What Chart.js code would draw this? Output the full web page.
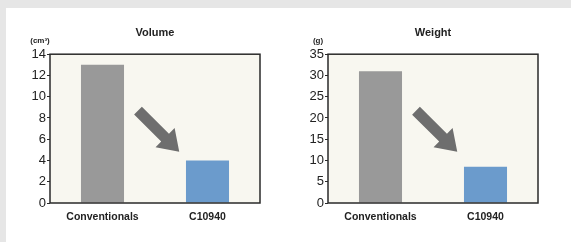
<!DOCTYPE html>
<html>
<head>
<meta charset="utf-8">
<script src="https://cdn.jsdelivr.net/npm/chart.js@4/dist/chart.umd.min.js"></script>
<style>
  html, body { margin: 0; padding: 0; }
  body { width: 571px; height: 242px; background: #e6e6e6; position: relative; overflow: hidden; }
  #panel { position: absolute; left: 6px; top: 8px; right: 0; bottom: 0; background: #fff; }
  .box { position: absolute; top: 0; width: 285px; height: 242px; }
  #boxVolume { left: 0; }
  #boxWeight { left: 278px; }
</style>
</head>
<body>
<div id="panel"></div>
<div class="box" id="boxVolume"><canvas id="volumeChart"></canvas></div>
<div class="box" id="boxWeight"><canvas id="weightChart"></canvas></div>
<script>
var categories = ["Conventionals", "C10940"];
var volumeValues = [13, 4];
var weightValues = [31, 8.5];
var volumeAxis = { max: 14, step: 2, unit: "(cm\u00b3)", title: "Volume" };
var weightAxis = { max: 35, step: 5, unit: "(g)", title: "Weight" };
// arrow from / to, in category index and value units
var volumeArrow = [[0.338, 8.69], [0.731, 4.82]];
var weightArrow = [[0.338, 21.7], [0.731, 12.05]];
var barColors = ["#999999", "#6b9bcc"];

Chart.defaults.font.family = "'Liberation Sans', Arial, sans-serif";
Chart.defaults.color = "#222";

var framePlugin = {
  id: "frame",
  beforeDraw: function(chart){
    var a = chart.chartArea, ctx = chart.ctx;
    ctx.save();
    ctx.fillStyle = "#f8f7f0";
    ctx.fillRect(a.left, a.top, a.right - a.left, a.bottom - a.top);
    ctx.restore();
  },
  afterDatasetsDraw: function(chart, args, opts){
    var a = chart.chartArea, ctx = chart.ctx;
    var xs = chart.scales.x, ys = chart.scales.y;
    ctx.save();
    // arrow
    var x1 = xs.getPixelForValue(opts.arrow[0][0]), y1 = ys.getPixelForValue(opts.arrow[0][1]);
    var x2 = xs.getPixelForValue(opts.arrow[1][0]), y2 = ys.getPixelForValue(opts.arrow[1][1]);
    var ang = Math.atan2(y2 - y1, x2 - x1);
    var len = Math.hypot(x2 - x1, y2 - y1);
    var sw = 5.5, hw = 13.5, hl = 20;
    ctx.translate(x1, y1);
    ctx.rotate(ang);
    ctx.beginPath();
    ctx.moveTo(0, -sw);
    ctx.lineTo(len - hl, -sw);
    ctx.lineTo(len - hl, -hw);
    ctx.lineTo(len, 0);
    ctx.lineTo(len - hl, hw);
    ctx.lineTo(len - hl, sw);
    ctx.lineTo(0, sw);
    ctx.closePath();
    ctx.fillStyle = "#6e6e6e";
    ctx.fill();
    ctx.restore();

    ctx.save();
    ctx.strokeStyle = "#2a2a2a";
    ctx.lineWidth = 1.5;
    ctx.strokeRect(a.left, a.top, a.right - a.left, a.bottom - a.top);
    // unit label
    ctx.fillStyle = "#222";
    ctx.font = "bold 8px 'Liberation Sans', Arial, sans-serif";
    ctx.textAlign = "center";
    ctx.textBaseline = "middle";
    ctx.fillText(opts.unit, a.left - 10, a.top - 13);
    ctx.restore();
  }
};

function makeChart(id, values, axis, arrow){
  return new Chart(document.getElementById(id), {
    type: "bar",
    data: {
      labels: categories,
      datasets: [{ data: values, backgroundColor: barColors, borderWidth: 0,
        categoryPercentage: 1, barPercentage: 0.41 }]
    },
    options: {
      responsive: true, maintainAspectRatio: false, animation: false,
      layout: { padding: { left: 0, right: 25, top: 0, bottom: 0 } },
      plugins: {
        legend: { display: false },
        tooltip: { enabled: false },
        title: { display: true, text: axis.title, color: "#222", fullSize: false,
          font: { size: 11, weight: "bold" }, padding: { top: 26, bottom: 15 } },
        frame: { arrow: arrow, unit: axis.unit }
      },
      scales: {
        x: {
          grid: { display: false }, border: { display: false },
          ticks: { color: "#222", font: { size: 10.5, weight: "bold" }, padding: 0 },
          afterFit: function(s){ s.height = 39; }
        },
        y: {
          min: 0, max: axis.max,
          grid: { drawOnChartArea: false, tickLength: 3, color: "#2a2a2a", lineWidth: 1 },
          border: { display: false },
          ticks: { stepSize: axis.step, color: "#222", font: { size: 13 }, padding: 1 },
          afterFit: function(s){ s.width = 50; }
        }
      }
    },
    plugins: [framePlugin]
  });
}

makeChart("volumeChart", volumeValues, volumeAxis, volumeArrow);
makeChart("weightChart", weightValues, weightAxis, weightArrow);
</script>
</body>
</html>
